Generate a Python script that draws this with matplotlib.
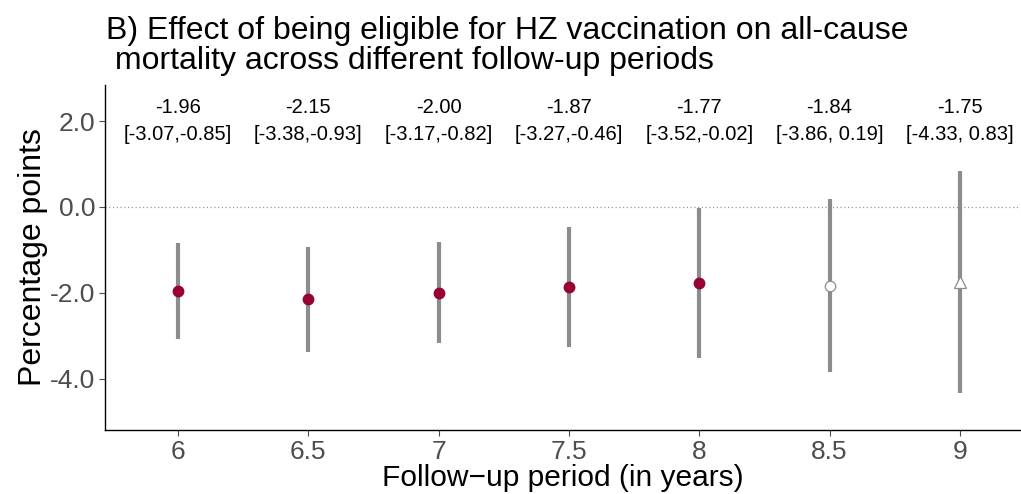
import matplotlib
matplotlib.use("Agg")
import matplotlib.pyplot as plt

plt.rcParams['font.family'] = ['Liberation Sans', 'DejaVu Sans']

# follow-up periods (years) and estimates in percentage points
periods = [6, 6.5, 7, 7.5, 8, 8.5, 9]
estimate = [-1.96, -2.15, -2.00, -1.87, -1.77, -1.84, -1.75]
ci_low = [-3.07, -3.38, -3.17, -3.27, -3.52, -3.86, -4.33]
ci_high = [-0.85, -0.93, -0.82, -0.46, -0.02, 0.19, 0.83]
tick_labels = ["6", "6.5", "7", "7.5", "8", "8.5", "9"]

fig = plt.figure(figsize=(10.21, 4.94), dpi=100)
ax = fig.add_axes([0.1028, 0.1296, 0.896, 0.699])

grey = "#8C8C8C"
red = "#990033"

ax.axhline(0, color="#999999", lw=0.9, ls=(0, (1, 2)), zorder=1)

for x, e, lo, hi in zip(periods, estimate, ci_low, ci_high):
    ax.plot([x, x], [lo, hi], color=grey, lw=3, solid_capstyle="butt", zorder=2)
    if hi < 0:
        ax.plot(x, e, "o", ms=7.5, color=red, mec=red, zorder=3)
    elif x == 9:
        ax.plot(x, e, "^", ms=9, color="white", mec="#8C8C8C", mew=0.9, zorder=3)
    else:
        ax.plot(x, e, "o", ms=7.5, color="white", mec="#8C8C8C", mew=0.9, zorder=3)
    txt = "%.2f\n[%.2f,%s%.2f]" % (e, lo, " " if hi >= 0 else "", hi)
    ax.text(x, 2.0, txt, ha="center", va="center", fontsize=14.5,
            linespacing=1.55)

ax.set_xlim(5.72, 9.23)
ax.set_ylim(-5.2, 2.85)
ax.set_xticks(periods)
ax.set_xticklabels(tick_labels)
ax.set_yticks([2, 0, -2, -4])
ax.set_yticklabels(["%.1f" % v for v in [2, 0, -2, -4]])
ax.tick_params(axis="both", labelsize=19, colors="#4D4D4D", length=4,
               width=0.8, pad=3)

for s in ["top", "right"]:
    ax.spines[s].set_visible(False)
for s in ["left", "bottom"]:
    ax.spines[s].set_color("black")
    ax.spines[s].set_linewidth(1)

ax.set_xlabel("Follow\u2212up period (in years)", fontsize=21.5, labelpad=0)
ax.set_ylabel("Percentage points", fontsize=23, labelpad=1)

fig.text(0.104, 0.968, "B) Effect of being eligible for HZ vaccination on all-cause\n"
         " mortality across different follow-up periods",
         ha="left", va="top", fontsize=23, linespacing=1.0)

fig.savefig("out.png", dpi=100)
